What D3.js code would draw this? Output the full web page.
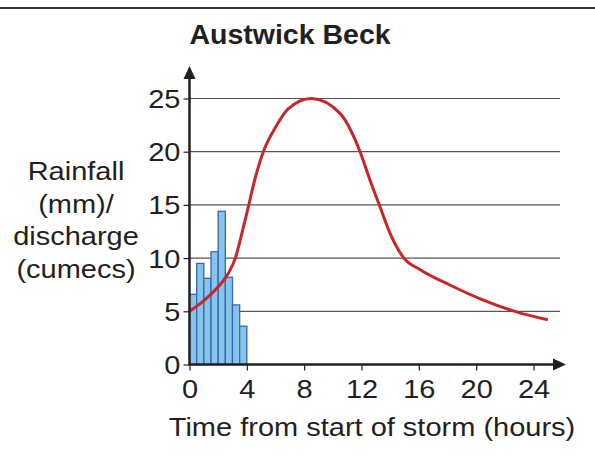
<!DOCTYPE html>
<html><head><meta charset="utf-8">
<script src="https://cdn.jsdelivr.net/npm/d3@7"></script>
<style>body{margin:0;background:#fff}svg{display:block}text{font-family:"Liberation Sans",Arial,sans-serif;fill:#231f20}</style>
</head><body>
<script>
const title = "Austwick Beck";
const xLabel = "Time from start of storm (hours)";
const yLabelLines = ["Rainfall", "(mm)/", "discharge", "(cumecs)"];
const xTicks = [0, 4, 8, 12, 16, 20, 24];
const yTicks = [0, 5, 10, 15, 20, 25];
const rainStart = [0, 0.5, 1, 1.5, 2, 2.5, 3, 3.5];
const rainfall = [6.6, 9.5, 8.1, 10.6, 14.4, 8.2, 5.6, 3.6];
const dischargeHours = [0, 1, 2, 2.7, 3.2, 3.65, 4.1, 4.6, 5.15, 6, 6.9, 8.5, 10.5, 11.9, 12.6, 13.3, 14, 14.9, 16.1, 18.2, 20.5, 22.8, 25];
const discharge = [5.0, 6.0, 7.3, 8.55, 10.0, 12.3, 14.8, 17.6, 20, 22.3, 24.05, 25.0, 23.6, 20, 17.3, 14.8, 12.3, 10.1, 8.9, 7.45, 6.05, 4.95, 4.2];

const W = 595, H = 457;
const FS = 25, SX = 1.16;
const svg = d3.select("body").append("svg").attr("width", W).attr("height", H);

const x = d3.scaleLinear().domain([0, 24]).range([189.5, 533.5]);
const y = d3.scaleLinear().domain([0, 25]).range([364.5, 98.5]);
const gridRight = 560;

// top border
svg.append("line").attr("x1", 0).attr("x2", W).attr("y1", 8).attr("y2", 8)
  .attr("stroke", "#333").attr("stroke-width", 2);

// title
svg.append("text").attr("x", 290).attr("y", 44).attr("text-anchor", "middle")
  .attr("font-size", 28.5).attr("font-weight", "bold").text(title);

// gridlines
svg.append("g").selectAll("line").data(yTicks.filter(d => d > 0)).join("line")
  .attr("x1", x(0)).attr("x2", gridRight)
  .attr("y1", d => y(d)).attr("y2", d => y(d))
  .attr("stroke", "#555").attr("stroke-width", 1.2);

// bars
const bw = 0.5;
svg.append("g").selectAll("rect").data(rainfall).join("rect")
  .attr("x", (d, i) => x(rainStart[i]))
  .attr("width", (d, i) => x(rainStart[i] + bw) - x(rainStart[i]))
  .attr("y", d => y(d))
  .attr("height", d => y(0) - y(d))
  .attr("fill", "#86c5e7").attr("stroke", "#3865b5").attr("stroke-width", 1.3);

// discharge curve
const line = d3.line().x(d => x(d[0])).y(d => y(d[1])).curve(d3.curveMonotoneX);
svg.append("path").datum(dischargeHours.map((h, i) => [h, discharge[i]]))
  .attr("d", line).attr("fill", "none").attr("stroke", "#c8262a").attr("stroke-width", 3);

// axes
const xAxis = d3.axisBottom(x).tickValues(xTicks).tickSize(6).tickPadding(0);
const gx = svg.append("g").attr("transform", `translate(0,${y(0)})`).call(xAxis);
gx.select(".domain").remove();
gx.selectAll(".tick line").attr("stroke", "#231f20").attr("stroke-width", 1.2);
gx.selectAll(".tick text").attr("font-size", FS).attr("fill", "#231f20")
  .attr("y", 0).attr("dy", 0).attr("transform", `translate(0,33) scale(${SX},1)`);

const yAxis = d3.axisLeft(y).tickValues(yTicks).tickSize(6).tickPadding(0);
const gy = svg.append("g").attr("transform", `translate(${x(0)},0)`).call(yAxis);
gy.select(".domain").remove();
gy.selectAll(".tick line").attr("stroke", "#231f20").attr("stroke-width", 1.2);
gy.selectAll(".tick text").attr("font-size", FS).attr("fill", "#231f20")
  .attr("x", 0).attr("dy", "0.36em").attr("transform", `translate(-9,0) scale(${SX},1)`);

// axis lines with arrows
svg.append("line").attr("x1", x(0)).attr("x2", 556).attr("y1", y(0)).attr("y2", y(0))
  .attr("stroke", "#231f20").attr("stroke-width", 2.5);
svg.append("path").attr("d", `M566,${y(0)} L553,${y(0) - 6} L553,${y(0) + 6} Z`).attr("fill", "#231f20");
svg.append("line").attr("x1", x(0)).attr("x2", x(0)).attr("y1", y(0) + 1).attr("y2", 76)
  .attr("stroke", "#231f20").attr("stroke-width", 2.5);
svg.append("path").attr("d", `M${x(0)},66 L${x(0) - 6},79 L${x(0) + 6},79 Z`).attr("fill", "#231f20");

// x label
svg.append("text").attr("transform", `translate(372,436) scale(${SX},1)`).attr("text-anchor", "middle")
  .attr("font-size", FS).text(xLabel);

// y label
svg.append("g").selectAll("text").data(yLabelLines).join("text")
  .attr("transform", (d, i) => `translate(76,${180 + i * 32.5}) scale(${SX},1)`)
  .attr("text-anchor", "middle")
  .attr("font-size", FS).text(d => d);
</script>
</body></html>
